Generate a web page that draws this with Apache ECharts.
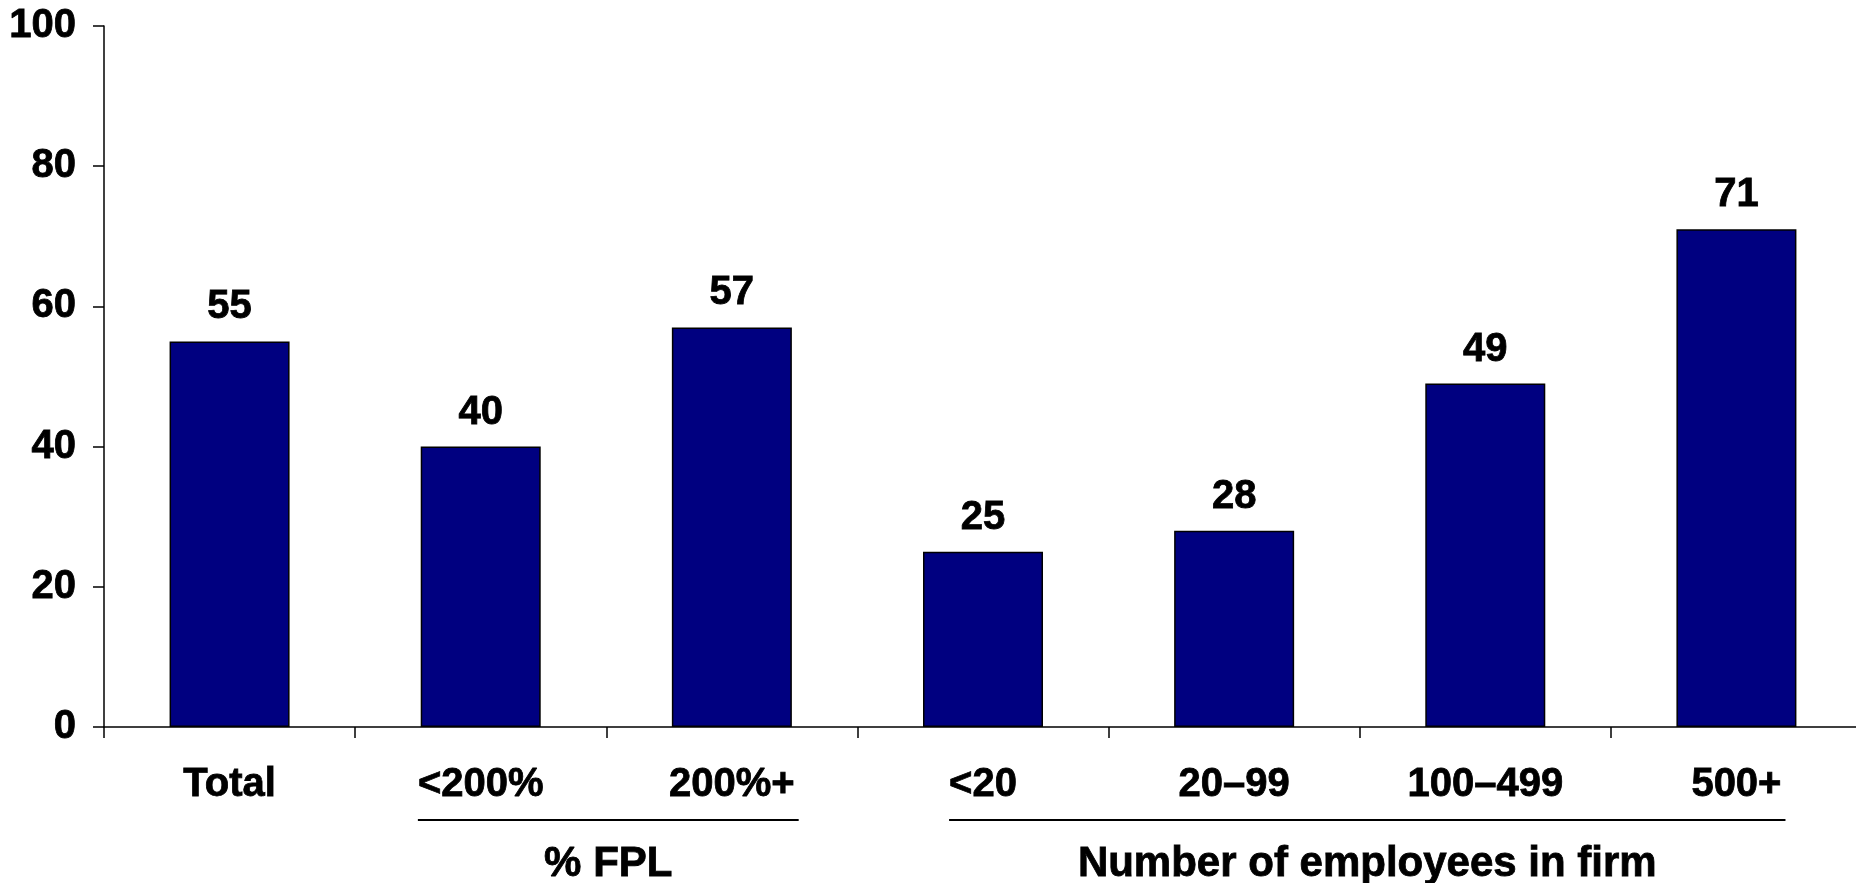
<!DOCTYPE html>
<html>
<head>
<meta charset="utf-8">
<script src="https://cdn.jsdelivr.net/npm/echarts@6/dist/echarts.min.js"></script>
<style>
html,body{margin:0;padding:0;background:#fff;}
#chart{width:1856px;height:883px;}
</style>
</head>
<body>
<div id="chart"></div>
<script>
const categories = ['Total', '<200%', '200%+', '<20', '20\u201399', '100\u2013499', '500+'];
const values = [55, 40, 57, 25, 28, 49, 71];
const yTicks = [0, 20, 40, 60, 80, 100];
const groups = [
  { name: '% FPL', from: 1, to: 2 },
  { name: 'Number of employees in firm', from: 3, to: 6 }
];

const FONT = 'Arial, "Liberation Sans", sans-serif';
const chart = echarts.init(document.getElementById('chart'));

const textBold = { textBorderColor: '#000', textBorderWidth: 0.8 };

const option = {
  animation: false,
  backgroundColor: '#fff',
  grid: { left: 104, right: -6, top: 26, bottom: 156, outerBoundsMode: 'none', containLabel: false },
  xAxis: {
    type: 'category',
    data: categories,
    axisLine: { lineStyle: { color: '#000', width: 1.5 } },
    axisTick: { show: true, length: 11, lineStyle: { color: '#000', width: 1.5 } },
    axisLabel: Object.assign({ color: '#000', fontSize: 40, fontWeight: 'bold', fontFamily: FONT, margin: 38 }, textBold)
  },
  yAxis: {
    type: 'value',
    min: yTicks[0],
    max: yTicks[yTicks.length - 1],
    interval: yTicks[1] - yTicks[0],
    splitLine: { show: false },
    axisLine: { show: true, lineStyle: { color: '#000', width: 1.5 } },
    axisTick: { show: true, length: 11, lineStyle: { color: '#000', width: 1.5 } },
    axisLabel: Object.assign({ color: '#000', fontSize: 40, fontWeight: 'bold', fontFamily: FONT, margin: 28 }, textBold)
  },
  series: [{
    type: 'bar',
    data: values,
    barWidth: 120,
    itemStyle: { color: '#000080', borderColor: '#000', borderWidth: 1.5 },
    label: Object.assign({
      show: true, position: 'top', distance: 14,
      color: '#000', fontSize: 40, fontWeight: 'bold', fontFamily: FONT
    }, textBold)
  }]
};
chart.setOption(option);

// brackets under groups of categories, aligned to the label text extents
const ctx = document.createElement('canvas').getContext('2d');
ctx.font = 'bold 40px ' + FONT;
const graphics = [];
const lineY = 820;
groups.forEach(g => {
  const c1 = chart.convertToPixel({ xAxisIndex: 0 }, g.from);
  const c2 = chart.convertToPixel({ xAxisIndex: 0 }, g.to);
  const x1 = c1 - ctx.measureText(categories[g.from]).width / 2;
  const x2 = c2 + ctx.measureText(categories[g.to]).width / 2 + 4;
  graphics.push({
    type: 'line',
    shape: { x1: x1, y1: lineY, x2: x2, y2: lineY },
    style: { stroke: '#000', lineWidth: 2 }
  });
  graphics.push({
    type: 'text',
    x: (x1 + x2) / 2,
    y: 864,
    style: {
      text: g.name, fill: '#000', fontSize: 42, fontWeight: 'bold', fontFamily: FONT,
      align: 'center', verticalAlign: 'middle', stroke: '#000', lineWidth: 0.8
    }
  });
});
chart.setOption({ graphic: graphics });
</script>
</body>
</html>
